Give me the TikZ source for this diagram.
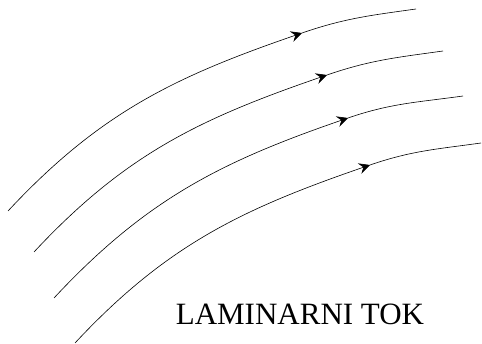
\documentclass[tikz,border=0pt]{standalone}
\usepackage{fontspec}
\setmainfont{Liberation Serif}
\usepackage{tikz}
\usetikzlibrary{arrows.meta}

\begin{document}
\begin{tikzpicture}[
  x=1pt, y=1pt,
  stream/.style={line width=0.6pt, color=black},
  streamarr/.style={stream, -{Stealth[length=11pt, width=11pt, inset=4pt]}},
  caption/.style={font=\fontsize{31}{36}\selectfont, inner sep=0pt, anchor=base}
]
  \useasboundingbox (0,0) rectangle (482,344);

  \coordinate (s1) at (8,133);  \coordinate (m1) at (302,311); \coordinate (e1) at (416,335);
  \coordinate (s2) at (34,92);  \coordinate (m2) at (327,269); \coordinate (e2) at (443,293);
  \coordinate (s3) at (54,46);  \coordinate (m3) at (348,226); \coordinate (e3) at (463,248);
  \coordinate (s4) at (75,1);   \coordinate (m4) at (370,179); \coordinate (e4) at (481,201);

  \foreach \i in {1,...,4}{
    \draw[streamarr] (s\i) to[out=47, in=199] (m\i);
    \draw[stream] (m\i) to[out=19, in=188] (e\i);
  }

  \node[caption] (label) at (300,19) {LAMINARNI TOK};
\end{tikzpicture}
\end{document}
